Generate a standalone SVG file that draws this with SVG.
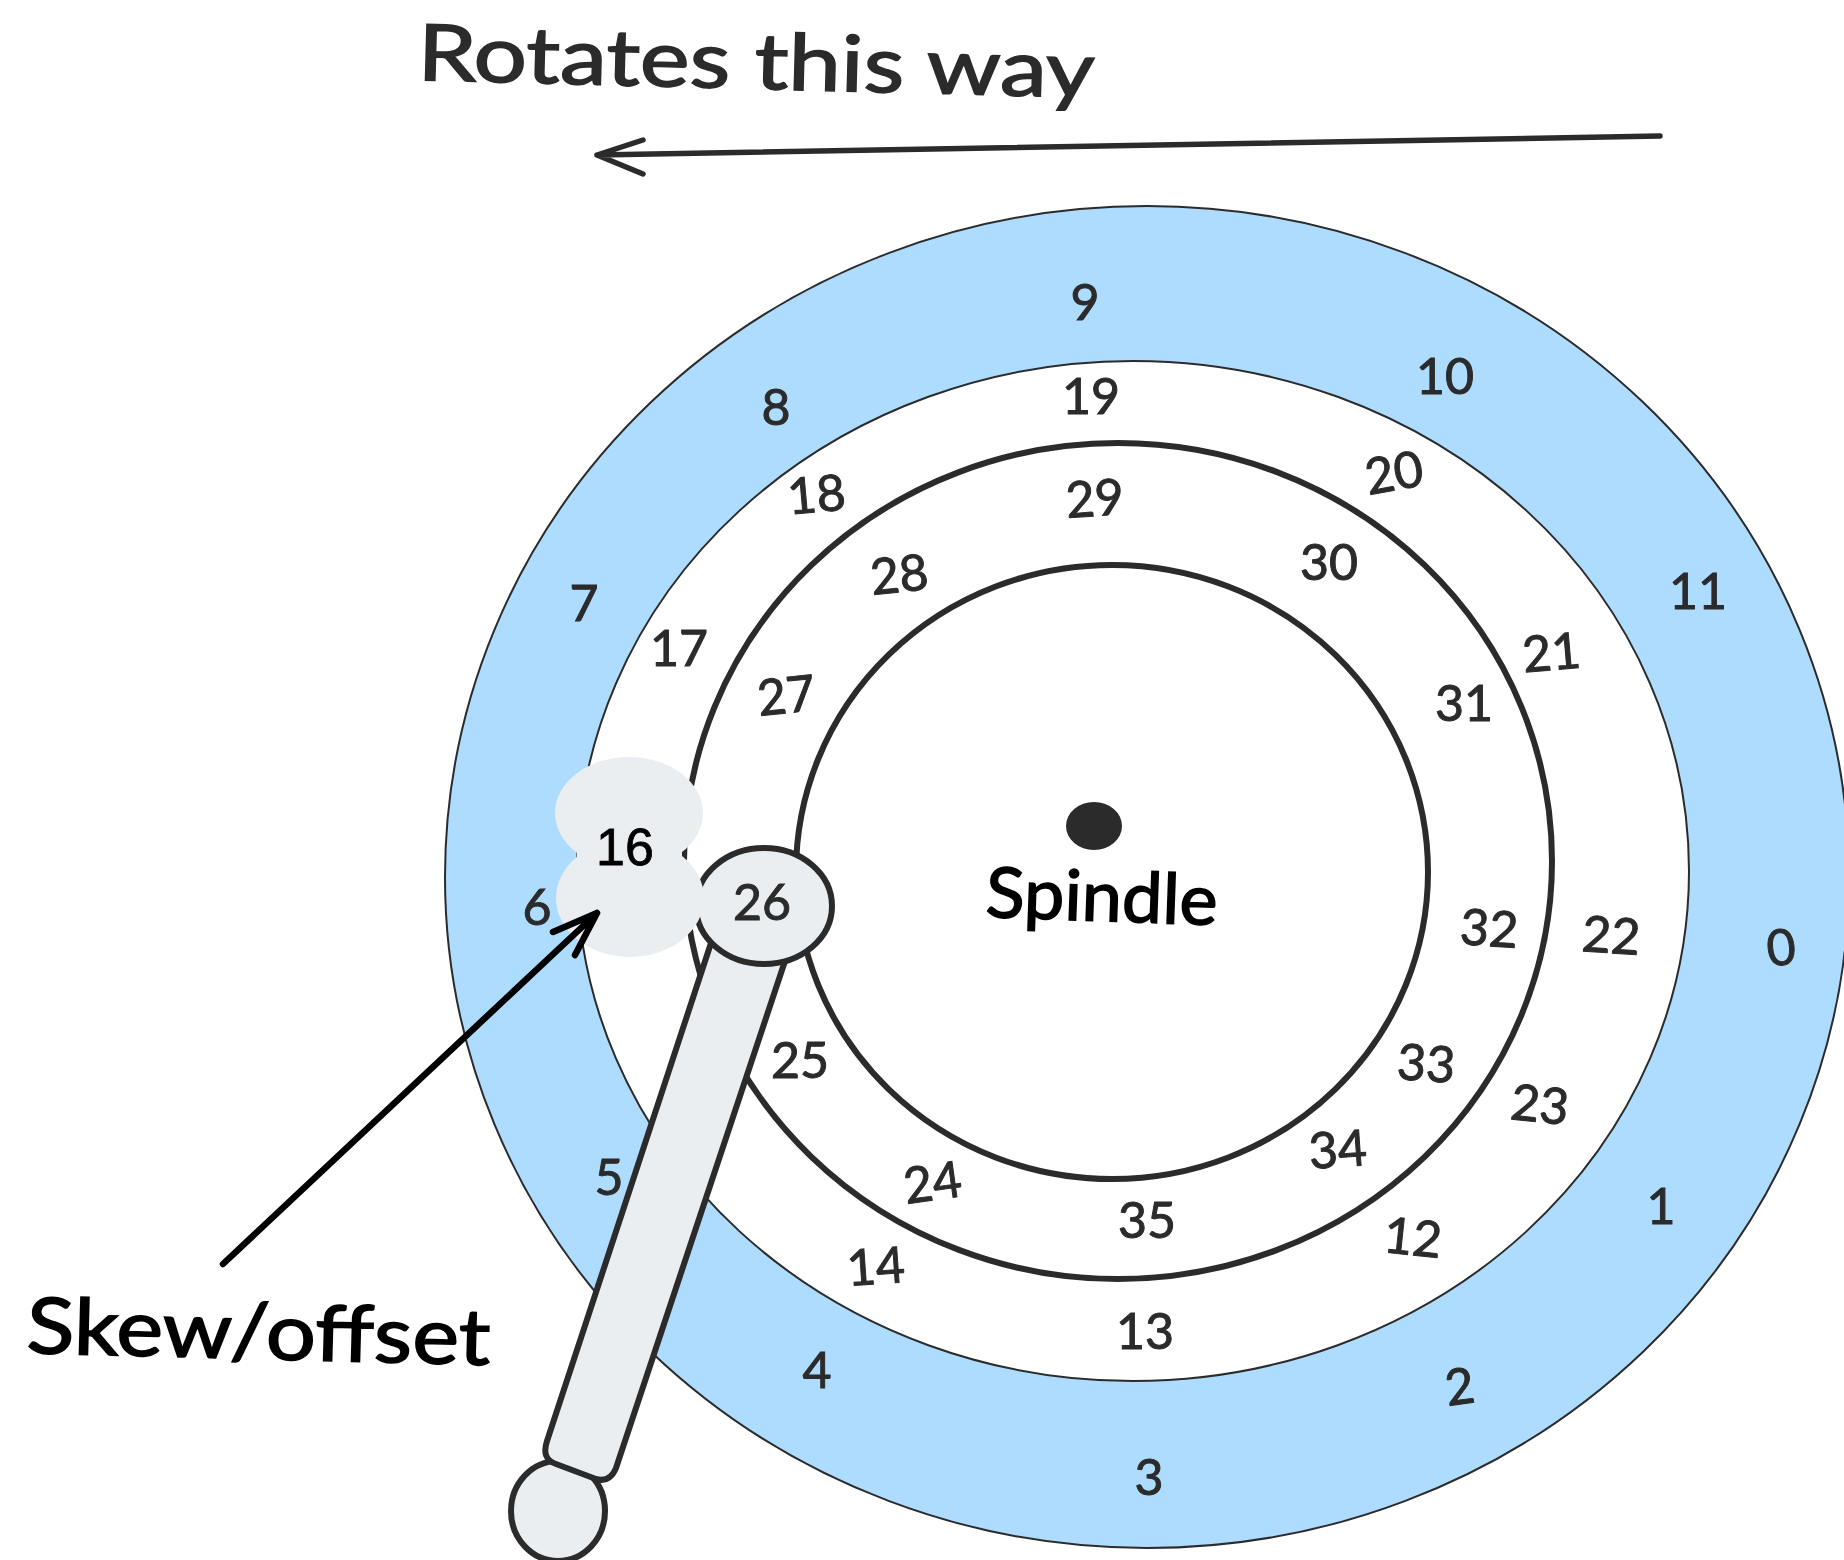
<svg xmlns="http://www.w3.org/2000/svg" width="1844" height="1560" viewBox="0 0 1844 1560">
<style>
.n{font-family:"Lato","Liberation Sans",sans-serif;font-size:50px;fill:#2b2b2b;stroke:#2b2b2b;stroke-width:1;text-anchor:middle}
.t{font-family:"Lato","Liberation Sans",sans-serif;font-size:78px;fill:#2b2b2b;stroke:#2b2b2b;stroke-width:1.5}
.k{fill:#000;stroke:#000}
.ring{fill:#fff;stroke:#2b2b2b;stroke-width:6}
.thin{stroke-width:2}
.part{fill:#eaeef0;stroke:#2b2b2b;stroke-width:6;stroke-linejoin:round}
.line{fill:none;stroke:#2b2b2b;stroke-width:5.5;stroke-linecap:round;stroke-linejoin:round}
.blk{stroke:#000;stroke-width:6.5}
</style>
<rect width="1844" height="1560" fill="#fff"/>
<g id="disc">
<ellipse id="track-outer" cx="1147" cy="877" rx="702" ry="671" fill="#aedcff" stroke="#2b2b2b" stroke-width="2"/>
<ellipse id="track-2" class="ring thin" cx="1133" cy="871" rx="556" ry="510"/>
<ellipse id="track-3" class="ring" cx="1118" cy="861" rx="434" ry="418"/>
<ellipse id="track-4" class="ring" cx="1112" cy="872" rx="316" ry="307"/>
<ellipse id="spindle-dot" cx="1094" cy="826" rx="28" ry="24" fill="#2b2b2b"/>
</g>
<g id="sector-numbers">
<text class="n" transform="translate(1783 965) rotate(-6)">0</text>
<text class="n" x="1661" y="1224">1</text>
<text class="n" transform="translate(1462 1404) rotate(-8)">2</text>
<text class="n" x="1149" y="1495">3</text>
<text class="n" x="817" y="1388">4</text>
<text class="n" x="609" y="1195">5</text>
<text class="n" x="537" y="925">6</text>
<text class="n" x="584" y="621">7</text>
<text class="n" x="776" y="425">8</text>
<text class="n" x="1085" y="320">9</text>
<text class="n" x="1445" y="394">10</text>
<text class="n" x="1698" y="609">11</text>
<text class="n" transform="translate(1411 1255) rotate(6)">12</text>
<text class="n" x="1145" y="1349">13</text>
<text class="n" transform="translate(877 1284) rotate(-4)">14</text>
<text class="n" x="679" y="666">17</text>
<text class="n" transform="translate(818 512) rotate(-5)">18</text>
<text class="n" x="1091" y="414">19</text>
<text class="n" transform="translate(1397 490) rotate(-10)">20</text>
<text class="n" transform="translate(1553 670) rotate(-5)">21</text>
<text class="n" transform="translate(1610 953) rotate(4)">22</text>
<text class="n" transform="translate(1538 1122) rotate(6)">23</text>
<text class="n" transform="translate(935 1200) rotate(-8)">24</text>
<text class="n" x="800" y="1078">25</text>
<text class="n" transform="translate(788 713) rotate(-6)">27</text>
<text class="n" transform="translate(901 592) rotate(-6)">28</text>
<text class="n" transform="translate(1096 516) rotate(-4)">29</text>
<text class="n" x="1329" y="580">30</text>
<text class="n" x="1464" y="721">31</text>
<text class="n" transform="translate(1488 946) rotate(4)">32</text>
<text class="n" transform="translate(1425 1081) rotate(4)">33</text>
<text class="n" transform="translate(1339 1167) rotate(-4)">34</text>
<text class="n" x="1147" y="1238">35</text>
</g>
<g id="knob"><ellipse class="part" cx="558" cy="1511" rx="47" ry="50"/></g>
<g id="arm"><path class="part" d="M712 940L547 1441Q541 1459 556 1464L596 1479Q610 1483 616 1468L786 958Z"/></g>
<g id="head-26">
<ellipse class="part" cx="764" cy="906" rx="68" ry="58"/>
<text class="n" x="762" y="920">26</text>
</g>
<g id="blob-16">
<ellipse cx="629" cy="813" rx="74" ry="56" fill="#eaeef0"/>
<ellipse cx="630" cy="898" rx="74" ry="59" fill="#eaeef0"/>
<rect x="577" y="836" width="105" height="44" fill="#eaeef0"/>
<text x="625" y="865" font-family="'Liberation Sans',sans-serif" font-size="52" fill="#000" stroke="#000" stroke-width="0.8" text-anchor="middle">16</text>
</g>
<g id="labels">
<text class="t" transform="translate(417 80) rotate(1.5)" textLength="677" lengthAdjust="spacingAndGlyphs">Rotates this way</text>
<text class="t k" style="font-size:70px" textLength="232" lengthAdjust="spacingAndGlyphs" transform="translate(985 917) rotate(2)">Spindle</text>
<text class="t k" transform="translate(26 1353) rotate(1.5)" textLength="464" lengthAdjust="spacingAndGlyphs">Skew/offset</text>
</g>
<g id="connectors">
<path class="line" d="M1660 136L597 155M643 140L597 155L643 174"/>
<path class="line blk" d="M223 1264L597 913M553 932L597 913L575 955"/>
</g>
</svg>
